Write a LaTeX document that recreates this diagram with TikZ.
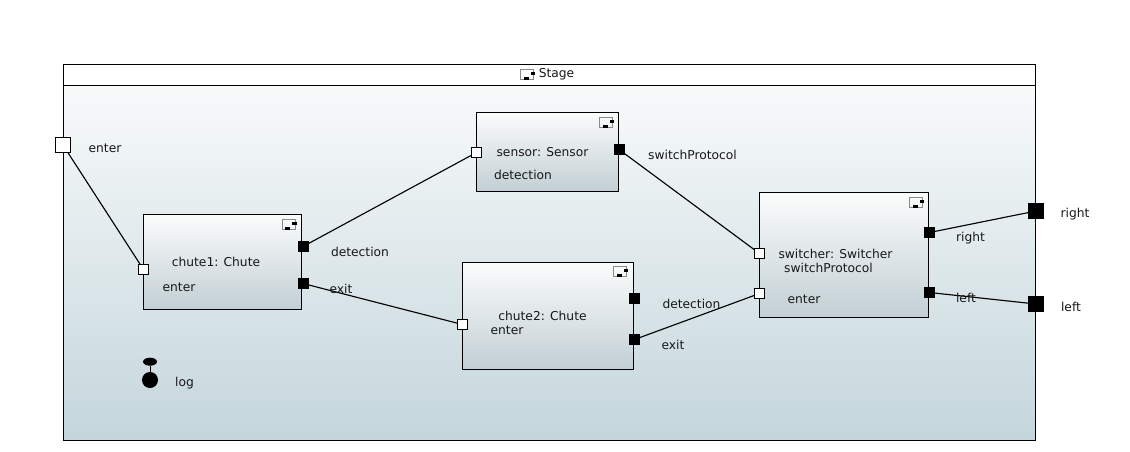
\documentclass[tikz,border=0pt]{standalone}
\usepackage{fontspec}
\setmainfont{DejaVu Sans}
\usepackage{xcolor}
\definecolor{boxtop}{HTML}{FBFCFC}
\definecolor{boxbottom}{HTML}{C2CFD4}
\definecolor{stagetop}{HTML}{F8FAFA}
\definecolor{stagebottom}{HTML}{C4D6DC}
\definecolor{icongray}{HTML}{8A8A8A}
\definecolor{labeltext}{HTML}{181818}
\usetikzlibrary{arrows.meta,positioning,shapes,calc}
\tikzset{
  partbox/.style={draw,line width=0.6pt,inner sep=0pt,top color=boxtop,bottom color=boxbottom},
  portin/.style={draw,fill=white,line width=0.6pt,inner sep=0pt,minimum size=7.5pt},
  portout/.style={draw,fill=black,line width=0.6pt,inner sep=0pt,minimum size=7.5pt},
  bigportin/.style={portin,minimum size=11.5pt},
  bigportout/.style={portout,minimum size=11.5pt},
  lbl/.style={inner sep=0pt,text=labeltext,font=\fontsize{9.2}{10}\selectfont},
  wire/.style={line width=0.85pt},
  icon/.pic={
    \draw[icongray,line width=0.4pt] (-6.5,-5) rectangle (6.5,5);
    \fill (3.5,-2.3) rectangle (8,1);
    \fill (-3.5,3.3) rectangle (1.5,6);
  }
}
\begin{document}
\begin{tikzpicture}[x=0.75pt,y=-0.75pt]
  \useasboundingbox (0,0) rectangle (1130,451);
  % Stage frame
  \node[draw,line width=0.6pt,inner sep=0pt,minimum width=729pt,minimum height=266.25pt,top color=stagetop,bottom color=stagebottom] (stage) at (549.5,262.5) {};
  \node[draw,line width=0.6pt,fill=white,inner sep=0pt,minimum width=729pt,minimum height=15.75pt] (stagehead) at (549.5,74.5) {};
  \node[lbl] (stagetitle) at (556.5,74.5) {Stage};
  \pic at (527,74) {icon};
  % Parts
  \node[partbox,minimum width=118.5pt,minimum height=71.25pt] (chuteone) at (222.5,262) {};
  \node[partbox,minimum width=106.5pt,minimum height=59.25pt] (sensor) at (547.5,152) {};
  \node[partbox,minimum width=128.25pt,minimum height=80.25pt] (chutetwo) at (548,316) {};
  \node[partbox,minimum width=126.75pt,minimum height=93.75pt] (switcher) at (844,255) {};
  \foreach \x/\y in {288.5/224, 606/122, 620/271, 916/202} {
    \pic at (\x,\y) {icon};
  }
  % Ports
  \foreach \name/\x/\y in {chuteoneenter/143.5/269.5, sensorin/476.5/152.5, chutetwoenter/462.5/324.5, switcherproto/759.5/253.5, switcherenter/759.5/293.5} {
    \node[portin] (\name) at (\x,\y) {};
  }
  \foreach \name/\x/\y in {chuteonedet/303/246.5, chuteoneexit/303/283.5, sensorout/619/149.5, chutetwodet/634.5/298.5, chutetwoexit/634.5/339.5, switcherright/929.5/232.5, switcherleft/929.5/292.5} {
    \node[portout] (\name) at (\x,\y) {};
  }
  \node[bigportin] (stageenter) at (63,145) {};
  \node[bigportout] (stageright) at (1036,211) {};
  \node[bigportout] (stageleft) at (1036,304) {};
  % Log port
  \node[ellipse,fill=black,inner sep=0pt,minimum width=10.5pt,minimum height=6pt] (logtop) at (150,361.7) {};
  \node[circle,fill=black,inner sep=0pt,minimum size=12pt] (logball) at (150,380) {};
  \draw[line width=0.6pt] (logtop) -- (logball);
  % Connections
  \foreach \a/\b in {stageenter/chuteoneenter, chuteonedet/sensorin, chuteoneexit/chutetwoenter, sensorout/switcherproto, chutetwoexit/switcherenter, switcherright/stageright, switcherleft/stageleft} {
    \draw[wire] (\a) -- (\b);
  }
  % Labels
  \foreach \name/\x/\y/\txt in {a/105/148/enter, b/216/262/{chute1: Chute}, c/179/287/enter, d/360/252/detection, e/341/289/exit, f/542.5/152/{sensor: Sensor}, g/523/175/detection, h/692.5/155/switchProtocol, i/542.5/316/{chute2: Chute}, j/507/330/enter, k/691.5/304/detection, l/673/345/exit, m/835.5/254/{switcher: Switcher}, n/828.5/268/switchProtocol, o/804/299/enter, p/970.5/238/right, q/966/298/left, r/1075/214/right, s/1071/307/left, t/184.5/383/log} {
    \node[lbl] (lbl\name) at (\x,\y) {\txt};
  }
\end{tikzpicture}
\end{document}
